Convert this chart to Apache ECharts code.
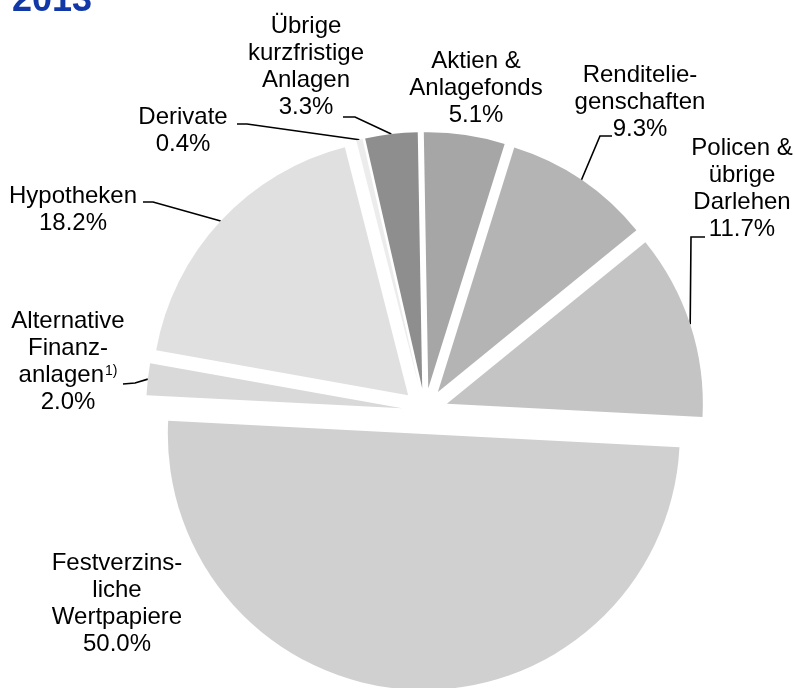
<!DOCTYPE html>
<html>
<head>
<meta charset="utf-8">
<script src="https://cdn.jsdelivr.net/npm/echarts@6/dist/echarts.min.js"></script>
<style>
html, body { margin: 0; padding: 0; background: #ffffff; }
#chart { width: 795px; height: 688px; }
</style>
</head>
<body>
<div id="chart"></div>
<script>
// ---- data ----
const chartTitle = '2013';
const categories = [
  'Aktien & Anlagefonds',
  'Renditeliegenschaften',
  'Policen & übrige Darlehen',
  'Festverzinsliche Wertpapiere',
  'Alternative Finanzanlagen',
  'Hypotheken',
  'Derivate',
  'Übrige kurzfristige Anlagen'
];
const labelTexts = [
  'Aktien &\nAnlagefonds',
  'Renditelie-\ngenschaften',
  'Policen &\nübrige\nDarlehen',
  'Festverzins-\nliche\nWertpapiere',
  'Alternative\nFinanz-\nanlagen{s|1)}',
  'Hypotheken',
  'Derivate',
  'Übrige\nkurzfristige\nAnlagen'
];
const values = [5.1, 9.3, 11.7, 50.0, 2.0, 18.2, 0.4, 3.3];
const colors = ['#a6a6a6', '#b4b4b4', '#c4c4c4', '#d0d0d0', '#d9d9d9', '#e0e0e0', '#ececec', '#8e8e8e'];

// ---- layout (not data) ----
const pieCenter = [425, 411];
const pieRadius = 256;
const startAngle = 91;      // degrees, ECharts convention
const explode = 23;         // px each slice is pulled out along its bisector
const labelLayoutCfg = [
  { x: 476, y: 88,  line: null },
  { x: 640, y: 102, line: [[600, 136], [612, 136]] },
  { x: 742, y: 189, line: [[691, 237], [705, 237]] },
  { x: 117, y: 604, line: null },
  { x: 68,  y: 362, line: [[135, 383], [123, 384]] },
  { x: 73,  y: 210, line: [[153, 202], [143, 202]] },
  { x: 183, y: 131, line: [[247, 124], [237, 124]] },
  { x: 306, y: 67,  line: [[355, 117], [343, 117]] }
];

const total = values.reduce((a, b) => a + b, 0);
const chart = echarts.init(document.getElementById('chart'), null, { renderer: 'canvas' });

const labelFont = '"Liberation Sans", Arial, sans-serif';
const series = [];
let cum = 0;
values.forEach((v, i) => {
  // bisector of slice i (radians, math convention, y up)
  const mid = (startAngle - 360 * (cum + v / 2) / total) * Math.PI / 180;
  cum += v;
  const cx = pieCenter[0] + explode * Math.cos(mid);
  const cy = pieCenter[1] - explode * Math.sin(mid);
  const hasLine = !!labelLayoutCfg[i].line;
  series.push({
    type: 'pie',
    name: categories[i],
    center: [cx, cy],
    radius: pieRadius,
    startAngle: startAngle,
    clockwise: true,
    avoidLabelOverlap: false,
    silent: true,
    emphasis: { disabled: true },
    itemStyle: { borderWidth: 0 },
    label: {
      show: true,
      position: 'outside',
      color: '#000000',
      fontFamily: labelFont,
      fontSize: 24,
      lineHeight: 27,
      align: 'center',
      formatter: function (p) {
        return labelTexts[p.dataIndex] + '\n' + p.value.toFixed(1) + '%';
      },
      rich: {
        s: {
          fontFamily: labelFont,
          fontSize: 14,
          lineHeight: 27,
          verticalAlign: 'top',
          padding: [2, 0, 0, 1],
          color: '#000000'
        }
      }
    },
    labelLine: {
      show: hasLine,
      smooth: false,
      lineStyle: { color: '#000000', width: 1.6 }
    },
    labelLayout: function (p) {
      if (p.dataIndex !== i) return {};
      const cfg = labelLayoutCfg[i];
      const res = { x: cfg.x, y: cfg.y, align: 'center', verticalAlign: 'middle' };
      if (cfg.line && p.labelLinePoints) {
        res.labelLinePoints = [p.labelLinePoints[0]].concat(cfg.line);
      }
      return res;
    },
    data: categories.map((name, j) => j === i ? {
      name: name,
      value: values[j],
      itemStyle: { color: colors[j] }
    } : {
      name: name,
      value: values[j],
      itemStyle: { color: 'rgba(0,0,0,0)', opacity: 0 },
      label: { show: false },
      labelLine: { show: false }
    })
  });
});

chart.setOption({
  animation: false,
  backgroundColor: '#ffffff',
  graphic: [{
    type: 'text',
    left: 12,
    top: -17,
    style: {
      text: chartTitle,
      font: 'bold 36px ' + labelFont,
      fill: '#1238a8'
    }
  }],
  series: series
});
</script>
</body>
</html>
